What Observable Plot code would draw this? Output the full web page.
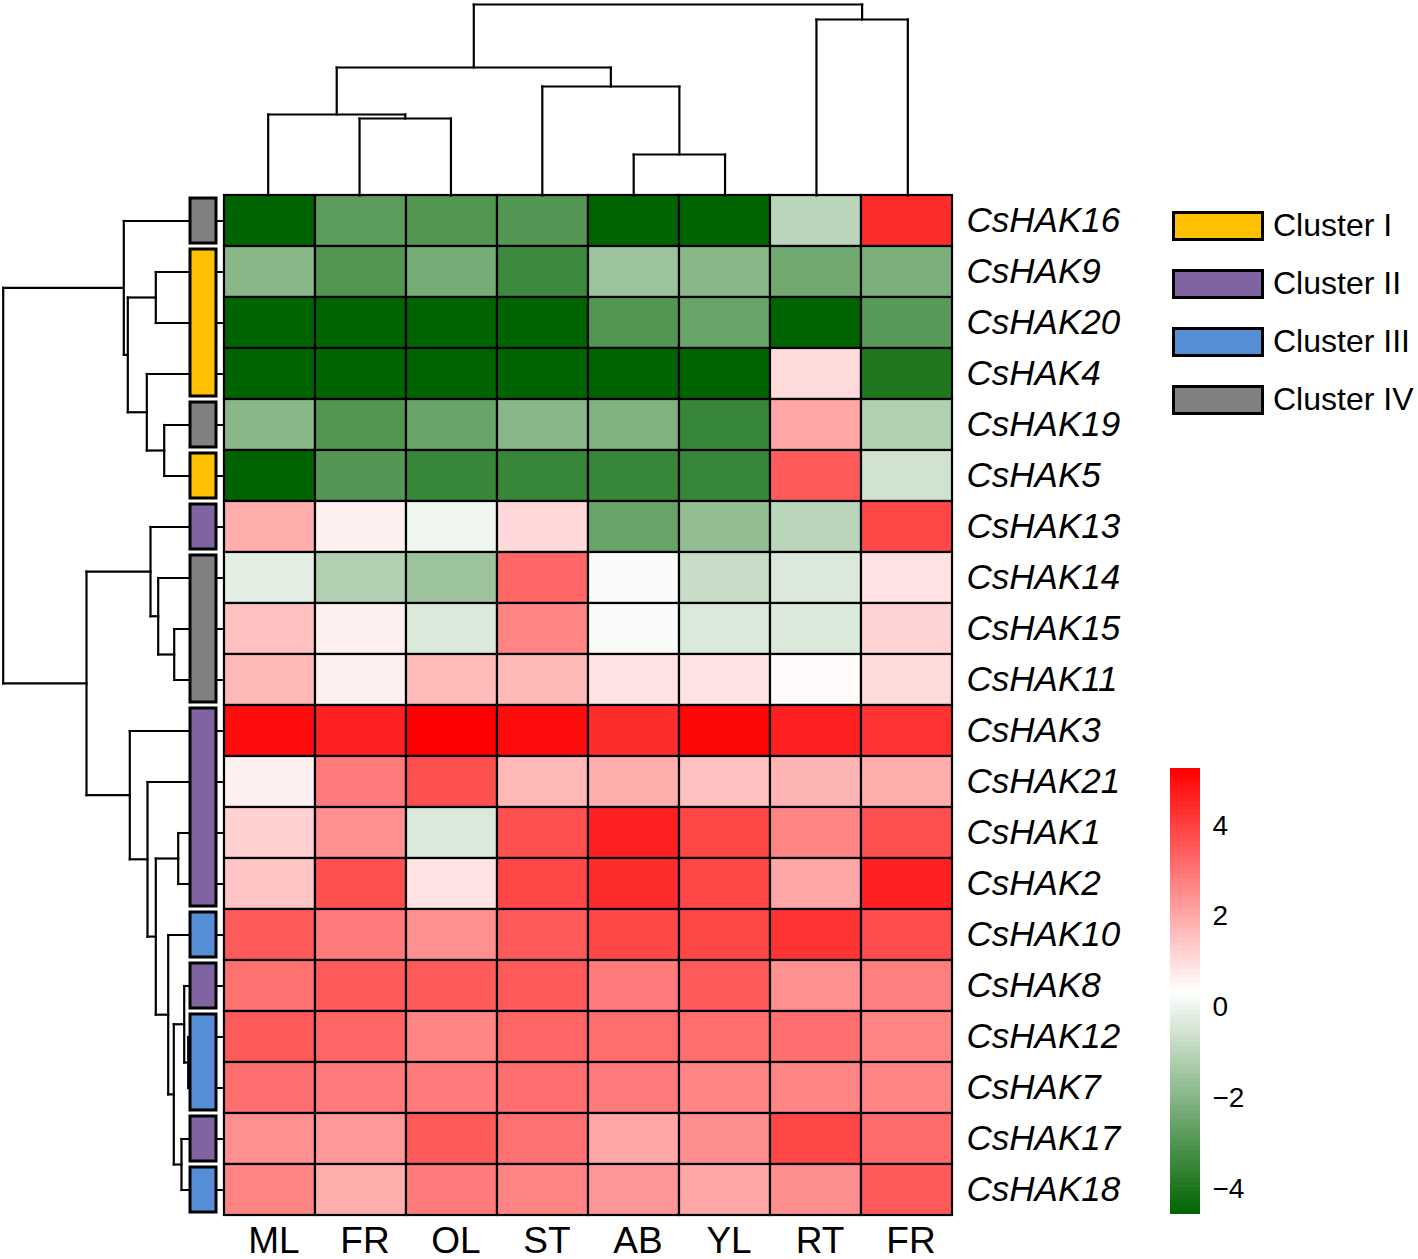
<!DOCTYPE html>
<html>
<head>
<meta charset="utf-8">
<script src="https://cdn.jsdelivr.net/npm/d3@7"></script>
<script src="https://cdn.jsdelivr.net/npm/@observablehq/plot@0.6"></script>
<style>
  html, body { margin: 0; padding: 0; background: #fff; overflow: hidden; }
  #root { position: relative; width: 1418px; height: 1259px; font-family: "Liberation Sans", Arial, sans-serif; }
  #root > svg, #root > div { position: absolute; }
  .legend-item { position: absolute; display: flex; align-items: center; }
  .legend-swatch { width: 86px; height: 24px; border: 3px solid #000; box-sizing: content-box; }
  .legend-text { margin-left: 9px; font-size: 32px; color: #000; white-space: nowrap; }
</style>
</head>
<body>
<div id="root"></div>
<script>
// ---------------- DATA ----------------
const genes = ["CsHAK16","CsHAK9","CsHAK20","CsHAK4","CsHAK19","CsHAK5","CsHAK13","CsHAK14","CsHAK15","CsHAK11",
               "CsHAK3","CsHAK21","CsHAK1","CsHAK2","CsHAK10","CsHAK8","CsHAK12","CsHAK7","CsHAK17","CsHAK18"];
const tissues = ["ML","FR","OL","ST","AB","YL","RT","FR"];   // column tick labels (left to right)

// expression z-scores, one row per gene (same order as genes), one value per tissue column
const expression = [
  [-4.6, -2.8, -3.0, -2.95, -4.6, -4.6, -1.0, 4.4],
  [-1.93, -3.0, -2.3, -3.4, -1.57, -1.93, -2.4, -2.2],
  [-4.6, -4.6, -4.6, -4.6, -3.0, -2.57, -4.6, -2.85],
  [-4.6, -4.6, -4.6, -4.6, -4.6, -4.6, 1.04, -3.96],
  [-1.93, -3.0, -2.57, -1.93, -2.1, -3.5, 2.05, -1.16],
  [-4.6, -2.95, -3.5, -3.5, -3.5, -3.5, 3.48, -0.56],
  [1.91, 0.62, 0.02, 1.06, -2.57, -1.74, -1.0, 3.87],
  [-0.21, -1.16, -1.57, 3.28, 0.2, -0.75, -0.35, 0.87],
  [1.55, 0.62, -0.35, 2.68, 0.2, -0.35, -0.35, 1.18],
  [1.7, 0.62, 1.67, 1.7, 0.87, 0.87, 0.45, 1.04],
  [5.0, 4.6, 5.24, 5.0, 4.4, 5.1, 4.6, 4.26],
  [0.62, 2.9, 3.7, 1.7, 1.91, 1.55, 1.77, 1.91],
  [1.24, 2.47, -0.35, 3.7, 4.6, 3.87, 2.68, 3.7],
  [1.47, 3.7, 0.87, 3.87, 4.4, 3.87, 2.05, 4.6],
  [3.5, 2.9, 2.47, 3.5, 3.85, 3.87, 4.25, 3.8],
  [3.05, 3.5, 3.5, 3.5, 2.9, 3.5, 2.47, 2.8],
  [3.5, 3.3, 2.68, 3.3, 3.15, 3.15, 3.1, 2.68],
  [3.1, 2.9, 2.9, 3.1, 2.9, 2.68, 2.68, 2.68],
  [2.47, 2.3, 3.5, 3.05, 2.05, 2.5, 3.87, 3.2],
  [2.68, 1.91, 2.9, 2.68, 2.35, 2.05, 2.5, 3.5]
];

// cluster annotation per gene (same order as genes)
const geneCluster = ["Cluster IV","Cluster I","Cluster I","Cluster I","Cluster IV","Cluster I","Cluster II",
                     "Cluster IV","Cluster IV","Cluster IV","Cluster II","Cluster II","Cluster II","Cluster II",
                     "Cluster III","Cluster II","Cluster III","Cluster III","Cluster II","Cluster III"];
const clusterNames = ["Cluster I","Cluster II","Cluster III","Cluster IV"];
const clusterColors = ["#FFC000","#8064A2","#558ED5","#808080"];

// row dendrogram: [node id, child, child, merge height]; strings that are gene names are leaves
const rowTree = [
  ["C","CsHAK9","CsHAK20",6.67],
  ["E","CsHAK19","CsHAK5",5.83],
  ["D","CsHAK4","E",7.57],
  ["B","C","D",9.47],
  ["A","CsHAK16","B",9.87],
  ["I","CsHAK15","CsHAK11",4.83],
  ["H","CsHAK14","I",6.43],
  ["G","CsHAK13","H",7.2],
  ["M","CsHAK1","CsHAK2",4.43],
  ["Q","CsHAK12","CsHAK7",3.43],
  ["P","CsHAK8","Q",3.83],
  ["R","CsHAK17","CsHAK18",4.1],
  ["O","P","R",4.87],
  ["N","CsHAK10","O",5.43],
  ["L","M","N",6.67],
  ["K","CsHAK21","L",7.5],
  ["J","CsHAK3","K",9.27],
  ["F","G","J",13.6],
  ["root","A","F",21.93]
];
// column dendrogram: numbers are column indices (leaves)
const colTree = [
  ["fo",1,2,7.7],
  ["m",0,"fo",8.1],
  ["ay",4,5,4.1],
  ["s",3,"ay",10.9],
  ["left","m","s",12.8],
  ["rf",6,7,17.6],
  ["root","left","rf",19.1]
];

const colorDomain = [-4.57, 5.24];
const colorTicks = [-4, -2, 0, 2, 4];

// ---------------- HELPERS ----------------
function treeSegments(tree, leafPos) {
  const pos = new Map(), ht = new Map();
  const P = k => pos.has(k) ? pos.get(k) : leafPos(k);
  const H = k => ht.has(k) ? ht.get(k) : 0;
  const segs = [];
  for (const [id, a, b, h] of tree) {
    const pa = P(a), pb = P(b);
    segs.push({p1: pa, h1: H(a), p2: pa, h2: h});
    segs.push({p1: pb, h1: H(b), p2: pb, h2: h});
    segs.push({p1: pa, h1: h, p2: pb, h2: h});
    pos.set(id, (pa + pb) / 2);
    ht.set(id, h);
  }
  return segs;
}
const mid = (colorDomain[0] + colorDomain[1]) / 2;
const colorScale = {type: "linear", domain: [colorDomain[0], mid, colorDomain[1]],
                    range: ["#006400", "#ffffff", "#ff0000"], clamp: true};

const root = document.getElementById("root");
function place(el, left, top) { el.style.left = left + "px"; el.style.top = top + "px"; root.appendChild(el); }
const baseStyle = {background: "transparent", overflow: "visible", fontFamily: "Liberation Sans, Arial, sans-serif"};

// geometry
const HM_LEFT = 222, HM_TOP = 195, HM_W = 731, HM_H = 1020;

// ---------------- HEATMAP ----------------
const cells = [];
genes.forEach((g, i) => expression[i].forEach((v, j) => cells.push({gene: g, col: j, value: v})));

const heat = Plot.plot({
  width: HM_W + 200, height: HM_H + 44,
  marginLeft: 0, marginTop: 0, marginRight: 200, marginBottom: 44,
  style: baseStyle,
  x: {type: "band", domain: d3.range(tissues.length), padding: 0},
  y: {type: "band", domain: genes, padding: 0},
  color: colorScale,
  marks: [
    Plot.cell(cells, {x: "col", y: "gene", fill: "value", stroke: "#000", strokeWidth: 2.2, inset: 0}),
    Plot.axisX({anchor: "bottom", tickSize: 0, tickPadding: 11, tickFormat: i => tissues[i], fontSize: 37, dx: 4, label: null}),
    Plot.axisY({anchor: "right", tickSize: 0, tickPadding: 13, fontSize: 35, fontStyle: "italic", label: null})
  ]
});
place(heat, HM_LEFT, HM_TOP);

// ---------------- ROW DENDROGRAM ----------------
const rowSegs = treeSegments(rowTree, g => genes.indexOf(g) + 0.5);
const rowDend = Plot.plot({
  width: HM_LEFT, height: HM_H, margin: 0,
  style: baseStyle,
  x: {domain: [22.2, 0], axis: null},
  y: {domain: [0, genes.length], range: [0, HM_H], axis: null},
  marks: [
    Plot.link(rowSegs, {x1: "h1", y1: "p1", x2: "h2", y2: "p2", stroke: "#000", strokeWidth: 2.2, strokeLinecap: "square"})
  ]
});
place(rowDend, 0, HM_TOP);

// ---------------- ANNOTATION BAR ----------------
const groups = [];
geneCluster.forEach((c, i) => {
  const last = groups[groups.length - 1];
  if (last && last.cluster === c) last.end = i + 1;
  else groups.push({cluster: c, start: i, end: i + 1});
});
const annot = Plot.plot({
  width: 32, height: HM_H, margin: 0,
  style: baseStyle,
  y: {domain: [0, genes.length], range: [0, HM_H], axis: null},
  color: {domain: clusterNames, range: clusterColors},
  marks: [
    Plot.rect(groups, {y1: "start", y2: "end", fill: "cluster", stroke: "#000", strokeWidth: 3,
                       insetLeft: 3, insetRight: 3, insetTop: 3, insetBottom: 3})
  ]
});
place(annot, 187, HM_TOP);

// ---------------- COLUMN DENDROGRAM ----------------
const colSegs = treeSegments(colTree, j => j + 0.5);
const colDend = Plot.plot({
  width: HM_W, height: HM_TOP, margin: 0,
  style: baseStyle,
  x: {domain: [0, tissues.length], axis: null},
  y: {domain: [0, 19.5], axis: null},
  marks: [
    Plot.link(colSegs, {x1: "p1", y1: "h1", x2: "p2", y2: "h2", stroke: "#000", strokeWidth: 2.2, strokeLinecap: "square"})
  ]
});
place(colDend, HM_LEFT, 0);

// ---------------- CLUSTER LEGEND ----------------
const legend = document.createElement("div");
legend.style.width = "246px"; legend.style.height = "230px";
clusterNames.forEach((name, i) => {
  const item = document.createElement("div");
  item.className = "legend-item";
  item.style.left = "0px";
  item.style.top = (i * 58) + "px";
  const sw = document.createElement("div");
  sw.className = "legend-swatch";
  sw.style.background = clusterColors[i];
  const tx = document.createElement("span");
  tx.className = "legend-text";
  tx.textContent = name;
  item.appendChild(sw); item.appendChild(tx);
  legend.appendChild(item);
});
place(legend, 1172, 207);

// ---------------- COLOR BAR ----------------
const step = 0.1;
const steps = d3.range(colorDomain[0], colorDomain[1], step).map(v => ({lo: v, hi: Math.min(v + step, colorDomain[1])}));
const cbar = Plot.plot({
  width: 100, height: 445, marginLeft: 0, marginRight: 70, marginTop: 0, marginBottom: 0,
  style: baseStyle,
  y: {domain: colorDomain},
  color: colorScale,
  marks: [
    Plot.rect(steps, {y1: "lo", y2: "hi", fill: d => (d.lo + d.hi) / 2, shapeRendering: "crispEdges", insetTop: -0.6}),
    Plot.axisY({anchor: "right", ticks: colorTicks, tickSize: 0, tickPadding: 12, fontSize: 28, label: null})
  ]
});
place(cbar, 1170, 769);
</script>
</body>
</html>
